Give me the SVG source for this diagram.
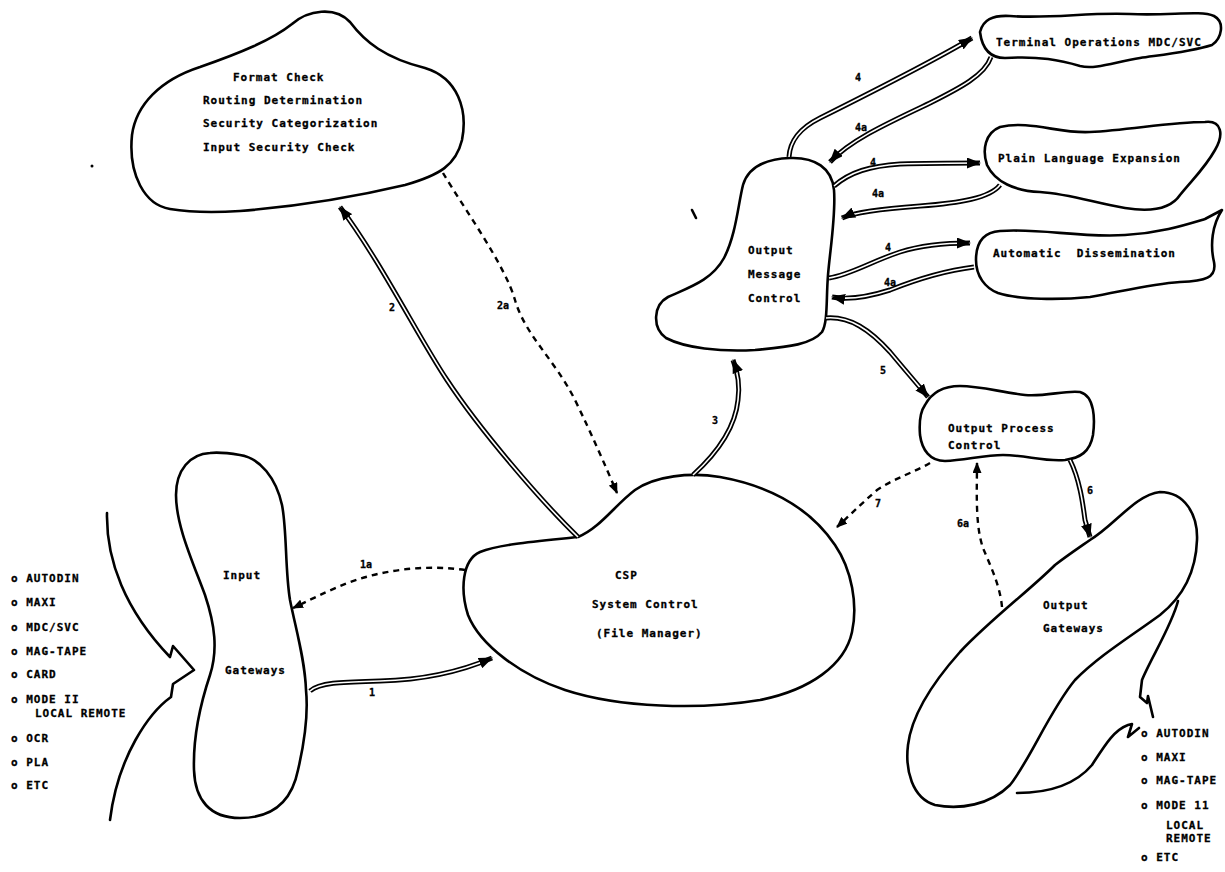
<svg xmlns="http://www.w3.org/2000/svg" width="1225" height="872" viewBox="0 0 1225 872">
<style>
.bg{fill:#fff}
.ol{fill:none;stroke:#000;stroke-width:2.6;stroke-linejoin:round;stroke-linecap:round}
.t{font-family:"DejaVu Sans Mono","Liberation Mono",monospace;font-weight:bold;font-size:11px;letter-spacing:1px;fill:#000;stroke:#000;stroke-width:0.3;white-space:pre}
.lb{font-family:"DejaVu Sans Mono","Liberation Mono",monospace;font-weight:bold;font-size:10px;fill:#000;stroke:#000;stroke-width:0.3}
.dblo{fill:none;stroke:#000;stroke-width:5;stroke-linecap:butt}
.dbli{fill:none;stroke:#fff;stroke-width:1.6;stroke-linecap:butt;marker-end:url(#hd)}
.dash{fill:none;stroke:#000;stroke-width:2.4;stroke-dasharray:6 5;marker-end:url(#hs)}
</style>
<defs>
<marker id="hd" markerUnits="userSpaceOnUse" viewBox="0 0 14 11" refX="13" refY="5.5" markerWidth="14" markerHeight="11" orient="auto"><path d="M0,0 L14,5.5 L0,11 Z" fill="#000"/></marker>
<marker id="hs" markerUnits="userSpaceOnUse" viewBox="0 0 11 9" refX="10" refY="4.5" markerWidth="11" markerHeight="9" orient="auto"><path d="M0,0 L11,4.5 L0,9 Z" fill="#000"/></marker>
</defs>
<rect class="bg" x="0" y="0" width="1225" height="872"/>

<g id="format-check">
<path class="ol" d="M170,209 C145,205 128,175 132,135 C136,105 160,80 200,67 C240,53 272,40 292,24 C308,10 335,6 350,22 C365,42 385,58 425,68 C458,78 468,110 462,140 C456,165 440,175 405,185 C350,198 290,207 240,211 C210,213 188,212 170,209 Z"/>
<text class="t" x="233" y="81">Format Check</text>
<text class="t" x="203" y="104">Routing Determination</text>
<text class="t" x="203" y="127">Security Categorization</text>
<text class="t" x="203" y="151">Input Security Check</text>
</g>

<g id="terminal-operations">
<path class="ol" d="M980,32 C983,20 992,15 1010,16 C1050,19 1090,12 1130,14 C1170,16 1200,10 1214,16 C1225,22 1222,38 1212,45 C1190,52 1160,55 1140,58 C1115,62 1095,70 1080,66 C1060,60 1040,56 1005,58 C990,58 982,48 980,32 Z"/>
<text class="t" x="996" y="46">Terminal Operations MDC/SVC</text>
</g>

<g id="plain-language">
<path class="ol" d="M987,165 C982,150 985,133 1000,127 C1030,120 1060,134 1090,132 C1130,130 1170,122 1205,122 C1222,120 1224,135 1215,150 C1205,168 1192,180 1180,195 C1170,210 1150,212 1125,208 C1095,203 1070,194 1040,192 C1015,191 995,182 987,165 Z"/>
<text class="t" x="998" y="162">Plain Language Expansion</text>
</g>

<g id="automatic-dissemination">
<path class="ol" d="M976,260 C976,240 985,232 1000,231 C1040,228 1080,238 1125,235 C1160,233 1185,225 1205,219 L1222,210 C1212,225 1210,245 1214,262 C1217,278 1205,281 1180,282 C1150,284 1120,292 1090,297 C1060,300 1020,300 998,293 C985,288 976,276 976,260 Z"/>
<text class="t" x="993" y="257">Automatic  Dissemination</text>
</g>

<g id="output-message-control">
<path class="ol" d="M790,158 C815,157 832,168 834,190 C836,215 830,250 828,275 C826,300 828,322 822,332 C812,344 790,347 755,350 C720,352 685,348 666,338 C652,328 653,305 668,297 C690,287 712,280 724,258 C736,235 738,205 743,185 C748,168 765,159 790,158 Z"/>
<text class="t" x="748" y="254">Output</text>
<text class="t" x="748" y="278">Message</text>
<text class="t" x="748" y="302">Control</text>
</g>

<g id="output-process-control">
<path class="ol" d="M925,405 C932,392 945,386 960,386 C980,386 1000,392 1025,395 C1045,397 1065,390 1080,392 C1095,396 1095,420 1093,435 C1090,452 1080,458 1065,460 C1045,462 1025,455 1003,455 C985,455 965,460 945,461 C930,461 922,450 920,435 C919,422 920,412 925,405 Z"/>
<text class="t" x="948" y="432">Output Process</text>
<text class="t" x="948" y="449">Control</text>
</g>

<g id="csp-system-control">
<path class="ol" d="M578,537 C600,528 615,505 635,490 C655,476 690,472 720,477 C770,486 810,508 835,545 C852,570 858,605 852,632 C845,665 810,690 760,700 C700,710 620,708 565,690 C520,675 480,645 468,615 C460,590 462,560 480,552 C500,544 540,541 578,537 Z"/>
<text class="t" x="615" y="579">CSP</text>
<text class="t" x="592" y="608">System Control</text>
<text class="t" x="596" y="637">(File Manager)</text>
</g>

<g id="input-gateways">
<path class="ol" d="M210,453 C190,454 176,470 176,495 C176,525 192,560 205,595 C215,625 218,650 210,675 C200,705 193,740 194,770 C195,800 210,818 240,818 C275,818 292,800 298,770 C305,740 308,710 306,690 C305,660 296,630 290,600 C285,570 287,530 282,505 C276,478 260,458 240,455 C228,453 218,452 210,453 Z"/>
<text class="t" x="223" y="579">Input</text>
<text class="t" x="225" y="674">Gateways</text>
</g>

<g id="input-sources">
<path class="ol" d="M107,513 C106,560 125,610 170,657 L173,646 L194,670 L173,684 L171,697 C150,712 118,755 110,820"/>
<text class="t" x="11" y="582">o AUTODIN</text>
<text class="t" x="11" y="606">o MAXI</text>
<text class="t" x="11" y="631">o MDC/SVC</text>
<text class="t" x="11" y="655">o MAG-TAPE</text>
<text class="t" x="11" y="678">o CARD</text>
<text class="t" x="11" y="703">o MODE II</text>
<text class="t" x="35" y="717">LOCAL REMOTE</text>
<text class="t" x="11" y="742">o OCR</text>
<text class="t" x="11" y="766">o PLA</text>
<text class="t" x="11" y="789">o ETC</text>
</g>

<g id="output-gateways">
<path class="ol" d="M1090,540 C1115,525 1135,495 1160,492 C1185,492 1198,515 1197,540 C1196,570 1185,595 1160,615 C1130,637 1100,655 1075,680 C1050,710 1030,760 1010,785 C990,805 960,810 935,805 C912,798 905,770 908,745 C912,712 935,680 960,652 C990,620 1030,590 1055,565 C1068,555 1080,547 1090,540 Z"/>
<text class="t" x="1043" y="609">Output</text>
<text class="t" x="1043" y="632">Gateways</text>
</g>

<g id="output-destinations">
<path class="ol" d="M1178,601 C1172,625 1150,660 1142,680 L1140,697 L1147,703 L1148,696 L1153,717"/>
<path class="ol" d="M1017,793 C1050,793 1075,785 1092,765 C1105,745 1114,730 1128,725 L1132,724 L1128,737 L1139,728"/>
<text class="t" x="1141" y="737">o AUTODIN</text>
<text class="t" x="1141" y="761">o MAXI</text>
<text class="t" x="1141" y="784">o MAG-TAPE</text>
<text class="t" x="1141" y="809">o MODE 11</text>
<text class="t" x="1166" y="829">LOCAL</text>
<text class="t" x="1166" y="842">REMOTE</text>
<text class="t" x="1141" y="861">o ETC</text>
</g>

<g id="connectors">
<path class="dblo" d="M310,691 C320,682 345,682 380,681 C420,680 455,674 492,658"/>
<path class="dbli" d="M310,691 C320,682 345,682 380,681 C420,680 455,674 492,658"/>
<path class="dblo" d="M578,537 C540,500 480,430 447,380 C420,340 380,260 340,207"/>
<path class="dbli" d="M578,537 C540,500 480,430 447,380 C420,340 380,260 340,207"/>
<path class="dblo" d="M693,475 C715,455 735,430 738,400 C740,385 737,370 733,360"/>
<path class="dbli" d="M693,475 C715,455 735,430 738,400 C740,385 737,370 733,360"/>
<path class="dblo" d="M789,157 C790,140 800,128 820,118 C870,93 930,63 972,38"/>
<path class="dbli" d="M789,157 C790,140 800,128 820,118 C870,93 930,63 972,38"/>
<path class="dblo" d="M991,57 C985,75 960,88 930,103 C890,122 850,140 830,162"/>
<path class="dbli" d="M991,57 C985,75 960,88 930,103 C890,122 850,140 830,162"/>
<path class="dblo" d="M834,186 C850,172 870,166 900,164 C930,163 960,163 980,163"/>
<path class="dbli" d="M834,186 C850,172 870,166 900,164 C930,163 960,163 980,163"/>
<path class="dblo" d="M1000,185 C990,198 960,203 920,206 C880,209 855,212 842,218"/>
<path class="dbli" d="M1000,185 C990,198 960,203 920,206 C880,209 855,212 842,218"/>
<path class="dblo" d="M829,278 C850,275 870,262 900,252 C925,244 950,243 970,243"/>
<path class="dbli" d="M829,278 C850,275 870,262 900,252 C925,244 950,243 970,243"/>
<path class="dblo" d="M974,267 C950,270 920,278 890,290 C865,298 848,300 832,297"/>
<path class="dbli" d="M974,267 C950,270 920,278 890,290 C865,298 848,300 832,297"/>
<path class="dblo" d="M826,318 C850,316 870,330 890,352 C905,370 918,385 928,397"/>
<path class="dbli" d="M826,318 C850,316 870,330 890,352 C905,370 918,385 928,397"/>
<path class="dblo" d="M1070,460 C1080,480 1083,505 1085,520 L1090,537"/>
<path class="dbli" d="M1070,460 C1080,480 1083,505 1085,520 L1090,537"/>
<path class="dash" d="M465,570 C430,565 390,568 350,582 C325,592 310,600 293,608"/>
<path class="dash" d="M443,173 C465,210 505,265 515,300 C525,335 555,360 575,400 C592,435 605,465 617,493"/>
<path class="dash" d="M1002,607 C1000,585 990,565 983,548 C975,525 977,490 977,463"/>
<path class="dash" d="M930,463 C915,472 895,478 877,490 C860,505 850,515 837,527"/>
<text class="lb" x="369" y="696">1</text>
<text class="lb" x="360" y="568">1a</text>
<text class="lb" x="389" y="311">2</text>
<text class="lb" x="497" y="309">2a</text>
<text class="lb" x="712" y="424">3</text>
<text class="lb" x="855" y="81">4</text>
<text class="lb" x="855" y="131">4a</text>
<text class="lb" x="870" y="166">4</text>
<text class="lb" x="872" y="197">4a</text>
<text class="lb" x="885" y="251">4</text>
<text class="lb" x="884" y="286">4a</text>
<text class="lb" x="880" y="374">5</text>
<text class="lb" x="1087" y="494">6</text>
<text class="lb" x="957" y="527">6a</text>
<text class="lb" x="875" y="507">7</text>
</g>

<g id="marks">
<path class="ol" d="M692,210 L696,218" stroke-width="2"/>
<circle cx="92" cy="166" r="1.5" fill="#000"/>
</g>
</svg>
